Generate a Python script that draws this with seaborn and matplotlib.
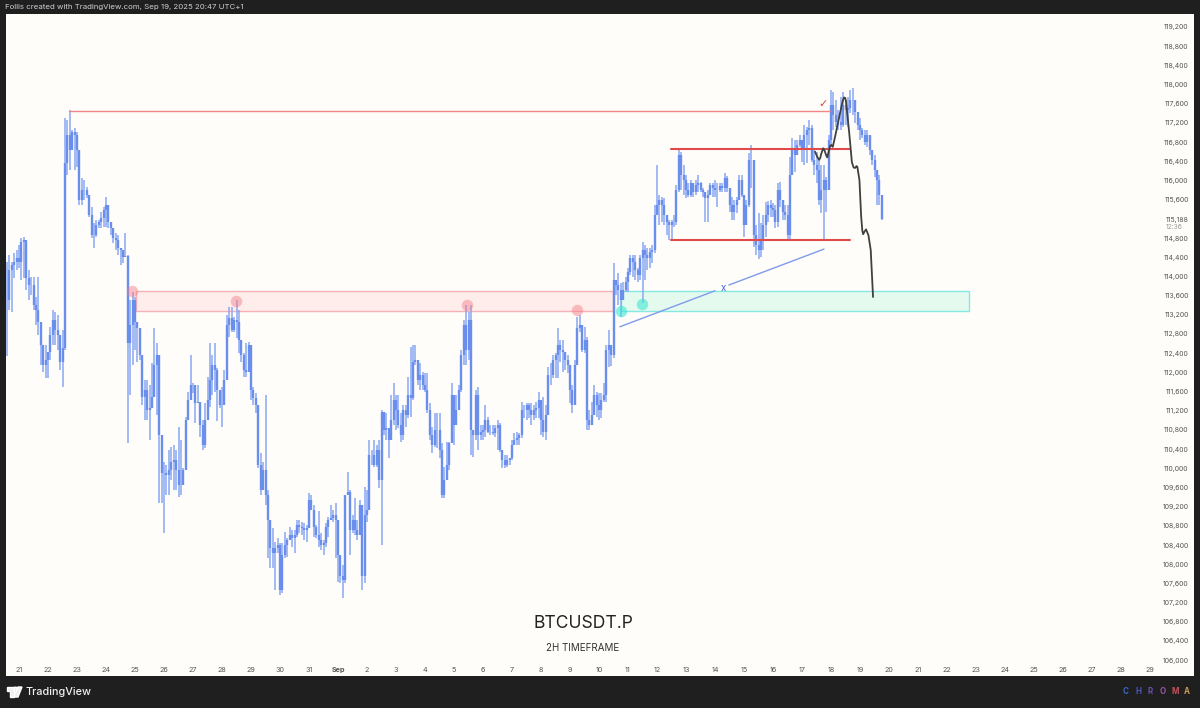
import numpy as np
import pandas as pd
import matplotlib
matplotlib.use("Agg")
import matplotlib.pyplot as plt
import seaborn as sns
from matplotlib.patches import Rectangle, Polygon, Circle

# 2H bars, prices in thousands, one row per day (Aug 20 tail, Aug 21 ... Sep 19)
high = [
    114.30, 114.45, 114.30, 114.49, 114.55,
    114.65, 114.80, 114.82, 114.76, 114.13, 113.99, 113.99, 113.57, 113.99, 112.99, 112.57, 112.57,
    112.42, 112.95, 113.30, 113.26, 113.20, 112.78, 112.88, 117.30, 117.26, 117.47, 117.05, 117.09,
    117.01, 116.57, 116.05, 116.01, 115.86, 115.49, 115.45, 115.11, 115.18, 115.18, 115.34, 115.45,
    115.65, 115.28, 115.11, 114.97, 114.91, 114.86, 114.59, 114.55, 114.91, 114.45, 113.51, 113.68,
    113.57, 113.05, 112.92, 112.36, 111.84, 111.84, 111.73, 112.19, 112.92, 112.61, 112.36, 110.59,
    110.13, 110.07, 110.38, 110.44, 110.48, 110.38, 110.86, 110.59, 110.00, 111.07, 111.59, 112.36,
    111.78, 111.69, 111.73, 111.36, 111.01, 111.36, 111.90, 112.61, 112.36, 112.61, 112.09, 111.59,
    111.69, 112.05, 113.20, 113.36, 113.36, 113.15, 113.51, 113.30, 112.67, 112.40, 112.61, 112.63,
    112.57, 111.69, 111.57, 111.32, 110.32, 110.13, 111.53, 109.55, 108.82, 108.75, 108.46, 108.55,
    108.44, 108.44, 108.67, 108.55, 108.78, 108.71, 108.71, 108.92, 108.92, 108.88, 108.86, 108.82,
    109.48, 109.44, 109.23, 108.82, 109.11, 108.65, 108.50, 108.86, 108.98, 109.23, 109.13, 109.28,
    108.50, 108.19, 107.98, 109.44, 109.92, 109.55, 109.03, 109.38, 108.92, 109.34, 109.23, 109.61,
    109.55, 110.59, 110.38, 110.59, 110.48, 110.59, 111.21, 111.11, 111.15, 110.84, 111.53, 111.78,
    111.53, 111.53, 111.15, 111.32, 111.32, 111.90, 112.53, 112.57, 112.57, 112.26, 112.19, 112.01,
    111.98, 111.98, 111.36, 110.86, 111.15, 111.15, 111.15, 110.53, 110.03, 110.55, 110.55, 111.78,
    111.11, 111.53, 111.73, 112.47, 113.09, 113.40, 113.26, 113.40, 110.73, 111.63, 111.69, 110.90,
    110.90, 111.32, 111.07, 110.90, 110.90, 110.90, 111.01, 110.94, 110.38, 110.28, 110.28, 110.21,
    110.59, 110.73, 110.76, 110.73, 111.38, 111.32, 111.36, 111.36, 111.36, 111.32, 111.38, 111.59,
    111.32, 111.49, 111.32, 112.11, 112.19, 112.36, 112.40, 112.92, 112.67, 112.67, 112.36, 112.36,
    111.90, 111.73, 112.26, 113.15, 113.20, 112.99, 112.95, 112.74, 111.21, 111.38, 111.73, 111.59,
    111.57, 111.57, 111.78, 112.57, 112.88, 112.42, 114.28, 113.93, 114.07, 113.86, 113.88, 113.99,
    114.17, 114.45, 114.45, 114.45, 114.17, 114.45, 114.72, 114.65, 114.59, 114.59, 114.65, 115.49,
    116.32, 115.70, 115.65, 115.63, 115.28, 115.18, 115.18, 115.28, 115.90, 116.64, 116.59, 116.32,
    116.11, 115.95, 116.01, 115.80, 116.01, 116.11, 115.97, 115.84, 115.76, 115.80, 115.95, 115.95,
    116.01, 115.95, 115.95, 115.95, 116.16, 116.09, 115.76, 115.65, 115.59, 115.65, 116.11, 116.11,
    115.45, 115.59, 116.57, 116.74, 115.84, 115.07, 115.32, 115.11, 115.28, 115.55, 115.57, 115.59,
    115.53, 115.49, 115.95, 115.97, 115.53, 115.49, 115.49, 116.49, 116.89, 116.84, 116.84, 116.95,
    116.84, 117.16, 117.12, 117.26, 117.16, 116.64, 116.59, 116.47, 116.32, 116.32, 116.07, 116.95,
    117.89, 117.84, 117.68, 117.47, 117.74, 117.84, 117.68, 117.74, 117.89, 117.93, 117.57, 117.43,
    117.30, 117.09, 117.05, 117.05, 116.95, 116.53, 116.53, 116.16, 116.11, 115.63,
]
low = [
    112.34, 113.30, 113.26, 113.97, 114.13,
    114.17, 113.93, 113.97, 113.72, 113.51, 113.61, 113.30, 112.99, 112.78, 112.15, 112.01, 111.88,
    111.88, 112.26, 112.57, 112.57, 112.47, 112.05, 111.69, 112.47, 116.12, 116.22, 116.64, 116.22,
    116.28, 115.49, 115.49, 115.59, 115.63, 115.24, 114.80, 114.59, 114.82, 115.01, 115.01, 115.03,
    115.03, 115.01, 114.86, 114.70, 114.55, 114.45, 114.24, 114.28, 114.40, 110.53, 111.53, 112.15,
    112.47, 112.22, 112.26, 111.32, 111.01, 111.01, 110.59, 111.32, 112.05, 111.11, 109.28, 109.28,
    108.65, 109.44, 109.44, 109.75, 109.55, 109.55, 109.40, 109.44, 109.65, 110.00, 111.11, 111.57,
    111.57, 110.94, 111.36, 110.65, 110.38, 110.42, 111.28, 111.28, 111.53, 111.59, 110.99, 111.26,
    110.86, 111.63, 112.01, 112.73, 112.84, 112.84, 112.71, 112.40, 112.22, 111.90, 111.90, 112.01,
    111.42, 111.32, 111.15, 110.00, 109.44, 109.75, 109.23, 108.13, 107.92, 107.92, 107.46, 108.23,
    107.36, 107.40, 108.13, 108.15, 108.50, 108.36, 108.23, 108.57, 108.65, 108.61, 108.50, 108.46,
    108.78, 109.13, 108.57, 108.55, 108.36, 108.30, 108.19, 108.36, 108.57, 108.92, 108.88, 108.13,
    107.63, 107.61, 107.29, 107.61, 109.44, 108.19, 108.65, 108.61, 108.50, 108.75, 107.46, 107.61,
    108.88, 109.19, 110.07, 110.03, 110.03, 109.59, 108.40, 110.69, 110.59, 110.21, 110.69, 110.90,
    110.80, 110.84, 110.55, 110.59, 110.86, 111.05, 111.07, 111.42, 112.15, 111.73, 111.63, 111.63,
    111.59, 111.15, 110.59, 110.32, 110.44, 110.42, 110.21, 109.38, 109.38, 109.80, 109.96, 110.53,
    110.48, 111.07, 111.28, 111.59, 112.15, 112.15, 112.26, 110.28, 110.24, 110.59, 110.38, 110.59,
    110.59, 110.65, 110.73, 110.69, 110.69, 110.65, 110.38, 110.34, 110.00, 110.00, 110.03, 110.07,
    110.17, 110.48, 110.48, 110.48, 110.63, 111.05, 111.01, 111.05, 110.90, 111.01, 111.05, 111.05,
    110.69, 110.65, 110.59, 111.28, 111.73, 111.88, 111.88, 111.88, 112.22, 112.01, 112.05, 111.98,
    111.36, 111.15, 111.53, 112.19, 112.84, 112.42, 112.40, 110.80, 110.80, 110.94, 111.21, 111.07,
    111.01, 111.05, 111.38, 111.38, 112.11, 112.13, 112.30, 113.61, 113.40, 113.15, 113.51, 113.68,
    113.68, 114.03, 113.99, 113.93, 113.88, 113.93, 113.45, 113.93, 114.13, 114.17, 114.28, 114.49,
    115.38, 115.07, 115.13, 115.07, 114.86, 114.76, 114.76, 115.03, 115.07, 115.76, 115.80, 115.70,
    115.63, 115.65, 115.65, 115.65, 115.70, 115.76, 115.76, 115.65, 115.13, 115.13, 115.76, 115.65,
    115.65, 115.45, 115.76, 115.76, 115.76, 115.76, 115.34, 115.18, 115.18, 115.32, 115.65, 115.65,
    114.82, 115.24, 115.45, 115.84, 114.61, 114.45, 114.36, 114.40, 114.55, 114.82, 115.13, 115.24,
    115.24, 115.01, 115.03, 115.45, 115.18, 115.18, 114.76, 114.76, 116.47, 116.18, 116.59, 116.70,
    116.39, 116.32, 116.36, 116.74, 116.39, 116.11, 115.95, 115.49, 115.32, 114.76, 115.34, 116.07,
    116.70, 117.05, 117.12, 117.05, 117.05, 117.12, 117.16, 117.12, 117.41, 117.36, 117.20, 117.05,
    116.84, 116.89, 116.74, 116.70, 116.53, 116.32, 116.07, 115.49, 115.49, 115.18,
]
close = [
    113.51, 114.13, 114.24, 114.30, 114.38,
    114.30, 114.72, 114.76, 113.97, 113.82, 113.82, 113.40, 113.30, 113.05, 112.57, 112.15, 112.26,
    112.42, 112.78, 113.09, 112.88, 112.78, 112.22, 112.51, 116.37, 116.95, 116.64, 117.01, 116.95,
    116.64, 115.59, 115.80, 115.80, 115.70, 115.28, 114.86, 114.86, 115.07, 115.13, 115.22, 115.38,
    115.49, 115.13, 115.01, 114.80, 114.76, 114.59, 114.55, 114.40, 114.42, 112.61, 112.99, 113.51,
    113.05, 112.92, 112.36, 111.49, 111.63, 111.21, 111.26, 111.49, 112.15, 112.36, 110.69, 109.90,
    109.90, 109.86, 109.96, 110.13, 110.17, 109.96, 109.65, 109.65, 109.96, 111.01, 111.42, 111.73,
    111.73, 111.36, 111.38, 110.90, 110.48, 111.01, 111.42, 111.84, 112.15, 112.05, 111.63, 111.32,
    111.32, 111.84, 112.99, 113.13, 112.88, 113.09, 113.05, 112.67, 112.36, 112.05, 112.01, 112.57,
    111.63, 111.46, 111.32, 110.07, 109.55, 109.96, 109.44, 108.92, 108.34, 108.23, 108.34, 108.40,
    107.46, 108.19, 108.40, 108.50, 108.61, 108.55, 108.61, 108.82, 108.78, 108.75, 108.71, 108.75,
    109.34, 109.13, 108.78, 108.61, 108.50, 108.40, 108.44, 108.78, 108.92, 108.96, 109.03, 108.92,
    108.19, 107.75, 107.67, 109.44, 109.50, 108.71, 108.92, 108.71, 108.61, 109.23, 107.75, 109.03,
    109.13, 110.28, 110.28, 110.07, 110.38, 109.75, 111.17, 110.80, 110.84, 110.59, 111.01, 111.42,
    111.21, 110.90, 110.69, 111.21, 111.11, 111.53, 111.46, 112.22, 112.26, 111.84, 111.94, 111.73,
    111.63, 111.21, 110.69, 110.48, 110.80, 110.80, 110.38, 109.44, 109.75, 110.07, 110.53, 111.53,
    110.90, 111.21, 111.63, 112.36, 112.99, 112.47, 113.09, 110.80, 110.69, 111.53, 110.69, 110.76,
    110.80, 111.01, 110.76, 110.76, 110.73, 110.84, 110.90, 110.38, 110.17, 110.07, 110.17, 110.21,
    110.48, 110.59, 110.63, 110.69, 111.21, 111.21, 111.32, 111.21, 111.11, 111.21, 111.26, 111.42,
    111.01, 110.76, 111.11, 111.94, 111.94, 112.26, 112.36, 112.57, 112.47, 112.42, 112.26, 112.15,
    111.63, 111.32, 112.15, 112.92, 112.99, 112.47, 112.67, 111.01, 110.90, 111.11, 111.53, 111.32,
    111.21, 111.42, 111.53, 112.47, 112.57, 112.36, 113.93, 113.82, 113.72, 113.51, 113.72, 113.88,
    114.09, 114.38, 114.30, 114.13, 114.03, 114.38, 114.55, 114.45, 114.38, 114.51, 114.55, 115.28,
    115.49, 115.59, 115.49, 115.28, 115.13, 115.07, 115.13, 115.13, 115.80, 116.53, 116.11, 116.01,
    115.80, 115.70, 115.95, 115.76, 115.90, 115.95, 115.80, 115.76, 115.63, 115.70, 115.90, 115.84,
    115.80, 115.80, 115.88, 115.84, 116.05, 115.84, 115.49, 115.34, 115.49, 115.59, 116.01, 115.70,
    115.07, 115.49, 116.43, 116.43, 114.86, 114.65, 114.55, 114.76, 115.07, 115.28, 115.49, 115.43,
    115.38, 115.13, 115.80, 115.59, 115.34, 115.28, 114.86, 116.11, 116.64, 116.53, 116.74, 116.84,
    116.64, 116.95, 117.05, 117.09, 116.43, 116.32, 116.22, 115.59, 115.80, 116.01, 115.80, 116.84,
    117.57, 117.36, 117.22, 117.22, 117.16, 117.57, 117.47, 117.51, 117.68, 117.68, 117.43, 117.16,
    117.05, 116.95, 116.80, 116.95, 116.64, 116.43, 116.22, 116.01, 115.70, 115.188,
]

# drawn path, days since Aug 21 and price in thousands
path_day = [27.45, 27.52, 27.59, 27.63, 27.66, 27.73, 27.78, 27.83, 27.87, 27.92, 27.97, 28.01, 28.06, 28.14, 28.31,
            28.40, 28.45, 28.49, 28.52, 28.63, 28.72, 28.78, 28.83, 28.88, 28.91, 28.98, 29.04, 29.08, 29.11,
            29.16, 29.21, 29.29, 29.37, 29.45]
path_price = [116.60, 116.50, 116.43, 116.47, 116.55, 116.67, 116.62, 116.53, 116.48, 116.60, 116.72, 116.74, 116.70, 116.91, 117.40,
              117.65, 117.73, 117.72, 117.64, 116.98, 116.38, 116.27, 116.26, 116.30, 116.28, 116.01, 115.25, 114.95, 114.88,
              114.94, 114.98, 114.86, 114.55, 113.57]

pink_day = [3.90, 7.48, 15.45, 19.24]
pink_price = [113.69, 113.49, 113.40, 113.30]
green_day = [20.76, 21.48]
green_price = [113.28, 113.42]

zone_low, zone_high = 113.28, 113.69
range_top, range_bottom = 116.65, 114.75
swing_high = 117.45
last_price = 115188

x_labels = ["21", "22", "23", "24", "25", "26", "27", "28", "29", "30", "31", "Sep"] + [str(d) for d in range(2, 30)]
price_ticks = [p for p in range(106000, 119600, 400) if p != 115200] + [last_price]

bg = "#fefdf9"
dark = "#1f1f1f"

sns.set_theme(style="white")
plt.rcParams["font.family"] = ["Inter", "DejaVu Sans"]

bars = pd.DataFrame({"high": high, "low": low, "close": close}) * 1000
bars["open"] = bars["close"].shift(1).fillna(bars["close"])
bars["bar"] = range(len(bars))
bars["day"] = (bars["bar"] - 5) / 12

wicks = bars.melt(id_vars=["bar", "day"], value_vars=["high", "low"], value_name="price")
bodies = bars.melt(id_vars=["bar", "day"], value_vars=["open", "close"], value_name="price")

fig = plt.figure(figsize=(12, 7.08), dpi=100, facecolor=dark)
ax = fig.add_axes([6 / 1200, 32 / 708, 1188 / 1200, 662 / 708], facecolor=bg)

# zones go under the bars
ax.add_patch(Rectangle((4.02, zone_low * 1000), 16.46, (zone_high - zone_low) * 1000,
                       fc="#feedeb", ec="#f7b0b5", lw=1, zorder=1))
ax.add_patch(Rectangle((20.76, zone_low * 1000), 12.0, (zone_high - zone_low) * 1000,
                       fc="#e4faef", ec="#86e8e2", lw=1, zorder=1))

sns.lineplot(data=wicks, x="day", y="price", units="bar", estimator=None, color="#8aa8f2",
             lw=1.1, legend=False, ax=ax, zorder=2, solid_capstyle="butt")
sns.lineplot(data=bodies, x="day", y="price", units="bar", estimator=None, color="#6a8eec",
             lw=1.7, legend=False, ax=ax, zorder=3, solid_capstyle="butt")

sns.scatterplot(x=np.array(pink_day), y=np.array(pink_price) * 1000, color="#f47f88", alpha=0.48,
                s=68, linewidth=0, ax=ax, zorder=4)
sns.scatterplot(x=np.array(green_day), y=np.array(green_price) * 1000, color="#3fe6d4", alpha=0.6,
                s=68, linewidth=0, ax=ax, zorder=4)

# levels
ax.plot([1.72, 27.97], [swing_high * 1000] * 2, color="#f0858c", lw=1, zorder=3)
ax.plot([22.48, 28.66], [range_top * 1000] * 2, color="#e04a4a", lw=1.5, zorder=4)
ax.plot([22.48, 28.66], [range_bottom * 1000] * 2, color="#e04a4a", lw=1.5, zorder=4)
ax.plot([20.72, 24.0], [112950, 113700], color="#7f9bea", lw=1, zorder=4)
ax.plot([24.48, 27.76], [113820, 114570], color="#7f9bea", lw=1, zorder=4)
ax.text(24.28, 113760, "x", color="#3f66d8", fontsize=7, ha="center", va="center", zorder=5)
ax.text(27.72, 117590, "\u2713", color="#e0404a", fontsize=8, ha="center", va="center",
        family="DejaVu Sans", fontweight="bold", zorder=5)

sns.lineplot(x=path_day, y=np.array(path_price) * 1000, sort=False, estimator=None, color="#404040",
             lw=1.3, ax=ax, zorder=6, solid_joinstyle="round")

ax.text(19.45, 106755, "BTCUSDT.P", fontsize=12.6, color="#222222", ha="center", va="center")
ax.text(19.45, 106250, "2H TIMEFRAME", fontsize=7, color="#333333", ha="center", va="center")

ax.set_xlim(-13 / 29, 1175 / 29)
ax.set_ylim(105670, 119470)
ax.set_xlabel("")
ax.set_ylabel("")
ax.grid(False)
sns.despine(ax=ax, left=True, bottom=True, right=True, top=True)

ax.set_xticks(range(len(x_labels)))
ax.set_xticklabels(x_labels)
ax.yaxis.tick_right()
ax.set_yticks(price_ticks)
ax.set_yticklabels([f"{p:,}" for p in price_ticks], ha="right")
ax.tick_params(axis="x", length=0, pad=-6.5, labelsize=5.2, labelcolor="#555555")
ax.tick_params(axis="y", length=0, pad=-3.8, labelsize=5.0, labelcolor="#555555")
for lab in ax.get_xticklabels():
    if lab.get_text() == "Sep":
        lab.set_fontweight("bold")
ax.text(40.12, last_price - 150, "12:36", fontsize=4.8, color="#999999", ha="right", va="center")

# frame text
fig.text(5 / 1200, 1 - 7 / 708, "Follis created with TradingView.com, Sep 19, 2025 20:47 UTC+1",
         fontsize=5.65, color="#d0d0d0", va="center")
fig.text(26 / 1200, 1 - 692 / 708, "TradingView", fontsize=7.8, color="#f0f0f0", va="center", fontweight="medium")

# logo in pixel coordinates
logo = fig.add_axes([0, 0, 1, 1], facecolor="none")
logo.set_xlim(0, 1200)
logo.set_ylim(708, 0)
logo.axis("off")
logo.add_patch(Polygon([(7, 687), (14, 687), (14, 697), (10, 697), (10, 691), (7, 691)], fc="#f0f0f0"))
logo.add_patch(Circle((15.5, 689), 1.8, fc="#f0f0f0"))
logo.add_patch(Polygon([(18, 687), (22, 687), (18, 697), (13.5, 697)], fc="#f0f0f0"))

chroma = ["C", "H", "R", "O", "M", "A"]
chroma_colors = ["#3c66c8", "#4a55b8", "#6a4db0", "#9a55a8", "#c0505a", "#c89a5a"]
for i, (ch, col) in enumerate(zip(chroma, chroma_colors)):
    fig.text((1126 + i * 12.2) / 1200, 1 - 692 / 708, ch, fontsize=5.8, color=col, fontweight="bold",
             ha="center", va="center")

fig.savefig("out.png", dpi=100, facecolor=dark)
